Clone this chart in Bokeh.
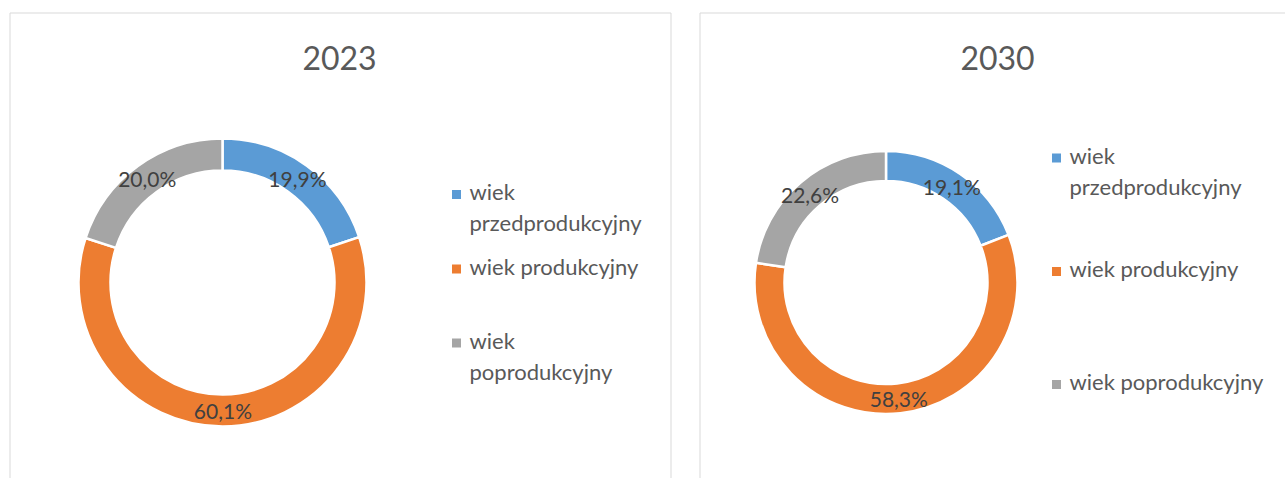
import math
from bokeh.plotting import figure
from bokeh.models import Range1d, ColumnDataSource
from bokeh.core.properties import value
from bokeh.embed import file_html
from bokeh.resources import INLINE

# ---- data ----
years = ["2023", "2030"]
categories = ["wiek przedprodukcyjny", "wiek produkcyjny", "wiek poprodukcyjny"]
share_2023 = [19.9, 60.1, 20.0]
share_2030 = [19.1, 58.3, 22.6]
colors = ["#5B9BD5", "#ED7D31", "#A5A5A5"]

# ---- layout (screen pixels of the page) ----
W, H = 1285, 478
X0, Y0 = 0, 0
FONT = "Lato"


def sy(y):
    return Y0 + H - y


panels = [
    dict(year=years[0], values=share_2023, box=(9.5, 12.5, 670.5, 520),
         title=(339, 57), cx=222, cy=282, ro=144, ri=112,
         leg_x=456, leg_y=[194, 268.5, 342.5], wrap=[True, False, True]),
    dict(year=years[1], values=share_2030, box=(699.5, 12.5, 1320, 520),
         title=(997, 57), cx=885.5, cy=282, ro=131.5, ri=101.5,
         leg_x=1056, leg_y=[157.5, 271, 384], wrap=[True, False, False]),
]

p = figure(width=W, height=H, x_range=Range1d(X0, X0 + W), y_range=Range1d(0, H),
           output_backend="svg", toolbar_location=None, min_border=0)
p.axis.visible = False
p.grid.visible = False
p.outline_line_color = None
p.background_fill_color = "white"

LINE_GAP = 31
TEXT_SHIFT = -3

for pn in panels:
    l, t, r, b = pn["box"]
    p.quad(left=[l], right=[r], top=[sy(t)], bottom=[sy(b)],
           fill_color=None, line_color="#D9D9D9", line_width=1)

    vals = pn["values"]
    total = sum(vals)
    starts, ends, mids = [], [], []
    cum = 0.0
    for v in vals:
        a0 = math.pi / 2 - 2 * math.pi * cum / total
        cum += v
        a1 = math.pi / 2 - 2 * math.pi * cum / total
        starts.append(a0)
        ends.append(a1)
        mids.append((a0 + a1) / 2)

    cx, cy = pn["cx"], sy(pn["cy"])
    src = ColumnDataSource(dict(
        x=[cx] * len(vals), y=[cy] * len(vals), start=starts, end=ends, color=colors,
    ))
    p.annular_wedge(x="x", y="y", inner_radius=pn["ri"], outer_radius=pn["ro"],
                    start_angle="start", end_angle="end", direction="clock",
                    fill_color="color", line_color="white", line_width=2.5, source=src)

    rm = (pn["ri"] + pn["ro"]) / 2
    lab = ColumnDataSource(dict(
        x=[cx + rm * math.cos(m) for m in mids],
        y=[cy + rm * math.sin(m) for m in mids],
        text=[f"{v:.1f}".replace(".", ",") + "%" for v in vals],
    ))
    p.text(x="x", y="y", text="text", source=lab, text_font=value(FONT),
           text_font_size="21px", text_color="#404040",
           text_align="center", text_baseline="middle")

    # title
    p.text(x=[pn["title"][0]], y=[sy(pn["title"][1])], text=[pn["year"]],
           text_font=value(FONT), text_font_size="32px", text_color="#595959",
           text_align="center", text_baseline="middle")

    # legend
    mx, my, tx, ty, tt = [], [], [], [], []
    for cat, yy, wrap in zip(categories, pn["leg_y"], pn["wrap"]):
        mx.append(pn["leg_x"])
        my.append(sy(yy))
        lines = cat.split(" ", 1) if wrap else [cat]
        for k, ln in enumerate(lines):
            tx.append(pn["leg_x"] + 13)
            ty.append(sy(yy + TEXT_SHIFT + k * LINE_GAP))
            tt.append(ln)
    p.scatter(x=mx, y=my, marker="square", size=9, fill_color=colors, line_color=None)
    p.text(x=tx, y=ty, text=tt, text_font=value(FONT), text_font_size="22px",
           text_color="#595959", text_align="left", text_baseline="middle")

open("out.html", "w").write(file_html(p, INLINE))
